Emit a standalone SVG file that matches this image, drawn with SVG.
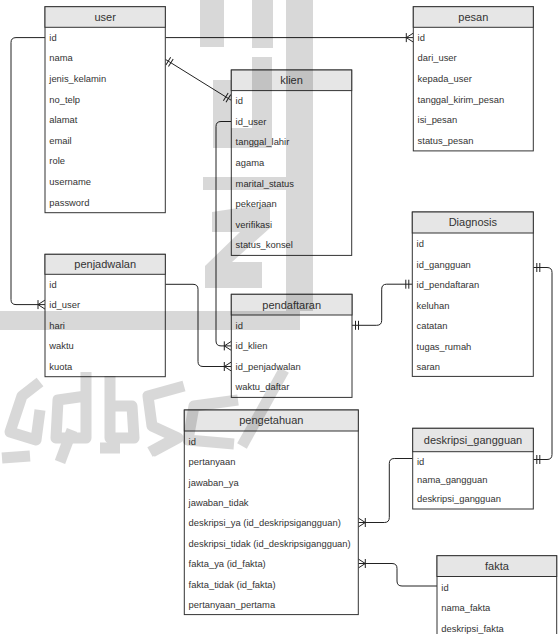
<svg xmlns="http://www.w3.org/2000/svg" width="559" height="634" viewBox="0 0 559 634">
<style>
.hd{fill:#e6e6e6;stroke:#333;stroke-width:1}
.bd{fill:#fff;stroke:#333;stroke-width:1}
.tt{font-family:"Liberation Sans",Arial,sans-serif;font-size:11px;fill:#333;text-anchor:middle}
.f{font-family:"Liberation Sans",Arial,sans-serif;font-size:9.4px;fill:#333}
.c{fill:none;stroke:#222;stroke-width:1}
</style>
<defs>
<marker id="many" markerUnits="userSpaceOnUse" markerWidth="12" markerHeight="12" viewBox="-9 -6 12 12" refX="0" refY="0" orient="auto-start-reverse" overflow="visible">
<path d="M0 -4.5 L-7 0 L0 4.5 M-7 -4.5 V4.5" fill="none" stroke="#222" stroke-width="1"/>
</marker>
<marker id="one" markerUnits="userSpaceOnUse" markerWidth="12" markerHeight="12" viewBox="-9 -6 12 12" refX="0" refY="0" orient="auto-start-reverse" overflow="visible">
<path d="M-3.5 -4.5 V4.5 M-6.5 -4.5 V4.5" fill="none" stroke="#222" stroke-width="1"/>
</marker>
</defs>
<rect width="559" height="634" fill="#fff"/>

<g id="connectors">
<path class="c" d="M165.3 37.6 H413.3" marker-end="url(#many)"/>
<path class="c" d="M45 37.6 H16 Q11 37.6 11 42.6 V299.6 Q11 304.6 16 304.6 H45" marker-end="url(#many)"/>
<path class="c" d="M165.3 59.3 L231.3 100.3" marker-start="url(#one)" marker-end="url(#one)"/>
<path class="c" d="M231.3 121.5 H221 Q216 121.5 216 126.5 V340.9 Q216 345.9 221 345.9 H231.3" marker-end="url(#many)"/>
<path class="c" d="M165.3 284.3 H193 Q198 284.3 198 289.3 V361.5 Q198 366.5 203 366.5 H231.3" marker-end="url(#many)"/>
<path class="c" d="M352 325.3 H376.7 Q381.7 325.3 381.7 320.3 V289.2 Q381.7 284.2 386.7 284.2 H412.3" marker-start="url(#one)" marker-end="url(#one)"/>
<path class="c" d="M533.3 267.5 H547 Q552 267.5 552 272.5 V454.5 Q552 459.5 547 459.5 H533.3" marker-start="url(#one)" marker-end="url(#one)"/>
<path class="c" d="M358.3 522.5 H384.3 Q389.3 522.5 389.3 517.5 V463.5 Q389.3 458.5 394.3 458.5 H412.7" marker-start="url(#many)"/>
<path class="c" d="M358.3 563.5 H392 Q397 563.5 397 568.5 V581 Q397 586 402 586 H437" marker-start="url(#many)"/>
</g>

<g id="user">
<rect class="bd" x="45" y="6.7" width="120.3" height="206"/>
<rect class="hd" x="45" y="6.7" width="120.3" height="20.6"/>
<text class="tt" x="105.2" y="20.8">user</text>
<text class="f" x="49.3" y="40.8">id</text>
<text class="f" x="49.3" y="61.4">nama</text>
<text class="f" x="49.3" y="82">jenis_kelamin</text>
<text class="f" x="49.3" y="102.6">no_telp</text>
<text class="f" x="49.3" y="123.2">alamat</text>
<text class="f" x="49.3" y="143.8">email</text>
<text class="f" x="49.3" y="164.4">role</text>
<text class="f" x="49.3" y="185">username</text>
<text class="f" x="49.3" y="205.6">password</text>
</g>

<g id="pesan">
<rect class="bd" x="413.3" y="6.7" width="120" height="144.2"/>
<rect class="hd" x="413.3" y="6.7" width="120" height="20.6"/>
<text class="tt" x="473.3" y="20.8">pesan</text>
<text class="f" x="417.6" y="40.8">id</text>
<text class="f" x="417.6" y="61.4">dari_user</text>
<text class="f" x="417.6" y="82">kepada_user</text>
<text class="f" x="417.6" y="102.6">tanggal_kirim_pesan</text>
<text class="f" x="417.6" y="123.2">isi_pesan</text>
<text class="f" x="417.6" y="143.8">status_pesan</text>
</g>

<g id="klien">
<rect class="bd" x="231.3" y="70" width="120.4" height="185.4"/>
<rect class="hd" x="231.3" y="70" width="120.4" height="20.6"/>
<text class="tt" x="291.5" y="84.1">klien</text>
<text class="f" x="235.6" y="104.1">id</text>
<text class="f" x="235.6" y="124.7">id_user</text>
<text class="f" x="235.6" y="145.3">tanggal_lahir</text>
<text class="f" x="235.6" y="165.9">agama</text>
<text class="f" x="235.6" y="186.5">marital_status</text>
<text class="f" x="235.6" y="207.1">pekerjaan</text>
<text class="f" x="235.6" y="227.7">verifikasi</text>
<text class="f" x="235.6" y="248.3">status_konsel</text>
</g>

<g id="penjadwalan">
<rect class="bd" x="45" y="254.3" width="120.3" height="122.4"/>
<rect class="hd" x="45" y="254.3" width="120.3" height="20"/>
<text class="tt" x="105.2" y="268.1">penjadwalan</text>
<text class="f" x="49.3" y="287.6">id</text>
<text class="f" x="49.3" y="307.8">id_user</text>
<text class="f" x="49.3" y="328.9">hari</text>
<text class="f" x="49.3" y="349.3">waktu</text>
<text class="f" x="49.3" y="369.9">kuota</text>
</g>

<g id="pendaftaran">
<rect class="bd" x="231.3" y="294.3" width="120.7" height="103.1"/>
<rect class="hd" x="231.3" y="294.3" width="120.7" height="20.7"/>
<text class="tt" x="291.7" y="308.5">pendaftaran</text>
<text class="f" x="235.6" y="328.5">id</text>
<text class="f" x="235.6" y="349.1">id_klien</text>
<text class="f" x="235.6" y="369.7">id_penjadwalan</text>
<text class="f" x="235.6" y="390.3">waktu_daftar</text>
</g>

<g id="Diagnosis">
<rect class="bd" x="412.3" y="212" width="121" height="164.4"/>
<rect class="hd" x="412.3" y="212" width="121" height="21"/>
<text class="tt" x="472.8" y="226.3">Diagnosis</text>
<text class="f" x="416.6" y="247.3">id</text>
<text class="f" x="416.6" y="267.8">id_gangguan</text>
<text class="f" x="416.6" y="288.2">id_pendaftaran</text>
<text class="f" x="416.6" y="308.8">keluhan</text>
<text class="f" x="416.6" y="329.3">catatan</text>
<text class="f" x="416.6" y="349.9">tugas_rumah</text>
<text class="f" x="416.6" y="370.4">saran</text>
</g>

<g id="pengetahuan">
<rect class="bd" x="184.3" y="410" width="174" height="204.6"/>
<rect class="hd" x="184.3" y="410" width="174" height="21"/>
<text class="tt" x="271.3" y="424.3">pengetahuan</text>
<text class="f" x="188.6" y="444.8">id</text>
<text class="f" x="188.6" y="465.2">pertanyaan</text>
<text class="f" x="188.6" y="485.6">jawaban_ya</text>
<text class="f" x="188.6" y="506">jawaban_tidak</text>
<text class="f" x="188.6" y="526.4">deskripsi_ya (id_deskripsigangguan)</text>
<text class="f" x="188.6" y="546.8">deskripsi_tidak (id_deskripsigangguan)</text>
<text class="f" x="188.6" y="567.2">fakta_ya (id_fakta)</text>
<text class="f" x="188.6" y="587.6">fakta_tidak (id_fakta)</text>
<text class="f" x="188.6" y="608">pertanyaan_pertama</text>
</g>

<g id="deskripsi_gangguan">
<rect class="bd" x="412.7" y="428.3" width="120.6" height="80.7"/>
<rect class="hd" x="412.7" y="428.3" width="120.6" height="23.4"/>
<text class="tt" x="473" y="443.8">deskripsi_gangguan</text>
<text class="f" x="417" y="464.9">id</text>
<text class="f" x="417" y="483.2">nama_gangguan</text>
<text class="f" x="417" y="502.3">deskripsi_gangguan</text>
</g>

<g id="fakta">
<rect class="bd" x="437" y="555.7" width="119.7" height="83"/>
<rect class="hd" x="437" y="555.7" width="119.7" height="20.8"/>
<text class="tt" x="496.9" y="569.9">fakta</text>
<text class="f" x="441.3" y="590.5">id</text>
<text class="f" x="441.3" y="611.1">nama_fakta</text>
<text class="f" x="441.3" y="631.6">deskripsi_fakta</text>
</g>

<g id="watermark" opacity="0.15">
<g fill="#000">
<rect x="200" y="0" width="24" height="47"/>
<rect x="252" y="0" width="21" height="48"/>
<rect x="286" y="0" width="27" height="311"/>
<path d="M213 80 H231 V128 H252 V57 H272 V148 H213 Z"/>
<rect x="203" y="177" width="90" height="13"/>
<path d="M245 207 H270 V228 L232 262 H262 V288 H205 V266 L240 232 H212 V212 Z"/>
<rect x="0" y="311" width="300" height="19"/>
</g>
<g fill="none" stroke="#000" stroke-width="11" stroke-linejoin="round">
<polyline points="40,382 22,396 10,432 36,440 40,410"/>
<polyline points="86,396 58,400 56,438 86,438 86,372"/>
<polyline points="110,376 110,438 134,438 132,406 112,406"/>
<polyline points="184,386 148,396 152,426 178,438 152,452"/>
<polyline points="238,400 194,406 188,440 234,444"/>
<polyline points="284,370 242,446"/>
<polyline points="2,458 30,456"/>
<polyline points="60,462 72,430"/>
<polyline points="100,448 120,448"/>
<polyline points="150,452 172,440"/>
</g>
</g>
</svg>
